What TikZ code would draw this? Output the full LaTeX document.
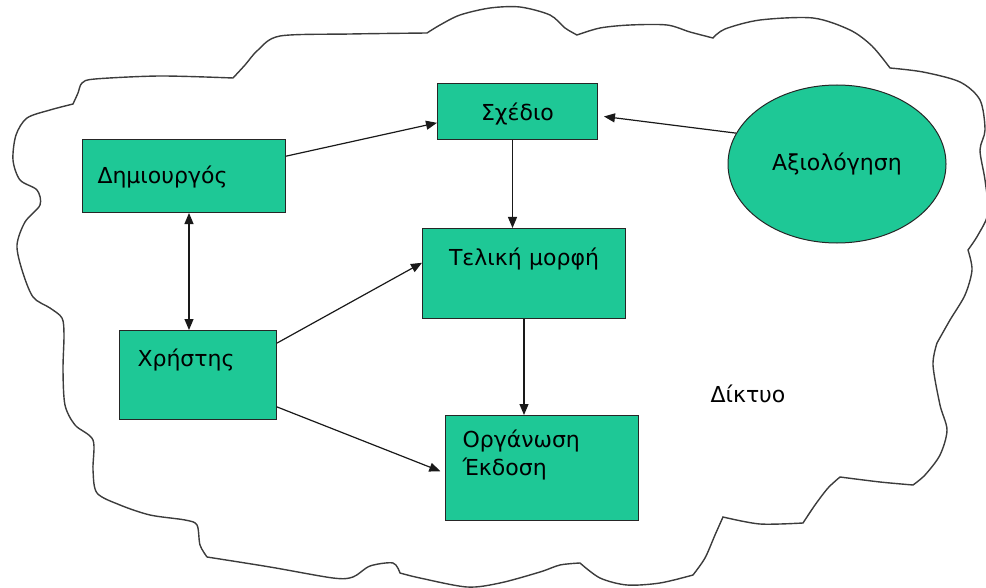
\documentclass[tikz,border=0pt]{standalone}
\usepackage{fontspec}
\setmainfont{DejaVu Sans}
\usetikzlibrary{arrows.meta,shapes.geometric}
\definecolor{boxgreen}{RGB}{30,200,150}
\definecolor{cloudgray}{RGB}{60,60,60}

\begin{document}
\begin{tikzpicture}[x=1bp,y=-1bp,
    box/.style={draw=black!85, fill=boxgreen, line width=1bp, anchor=north west,
                inner ysep=0pt, font=\fontsize{22bp}{28bp}\selectfont},
    oval/.style={ellipse, draw=black!85, fill=boxgreen, line width=1bp, inner sep=0pt,
                 minimum width=218bp, minimum height=158bp, font=\fontsize{22bp}{28bp}\selectfont},
    link/.style={-{Triangle[length=11bp,width=9bp]}, line width=1.2bp, draw=black!90},
    cloud/.style={draw=cloudgray, line width=1.4bp}]
    \useasboundingbox (0,0) rectangle (986,588);

    % the network cloud
    \draw[cloud] plot[smooth] coordinates {(207,557) (200,545) (197,525) (185,520) (150,515) (120,505) (97,493) (93,470) (93,440) (75,425) (65,405) (63,370) (64,335) (62,318) (50,308) (33,297) (22,270) (17,245) (25,222) (40,205) (37,190) (20,180) (13,160) (16,135) (27,118) (50,110) (73,104)}
        -- plot[smooth] coordinates {(73,104) (78,93) (82,83) (95,79) (160,76) (233,78)}
        -- plot[smooth] coordinates {(233,78) (245,65) (258,50) (280,36) (350,34) (427,33)}
        -- plot[smooth] coordinates {(427,33) (440,25) (460,15) (490,8) (520,7) (550,15) (565,28) (577,35)}
        -- plot[smooth] coordinates {(577,35) (600,28) (630,25) (667,25) (690,32) (713,38)}
        -- plot[smooth] coordinates {(713,38) (725,29) (760,20) (813,18) (850,30) (872,46) (890,68)}
        -- plot[smooth] coordinates {(890,68) (923,72) (960,82) (980,100) (985,130) (980,150) (985,180) (988,213) (978,235) (968,250)}
        -- plot[smooth] coordinates {(968,250) (972,270) (965,295) (950,320) (937,343)}
        -- plot[smooth] coordinates {(937,343) (933,365) (940,405) (947,430) (940,455) (925,475) (913,485)}
        -- plot[smooth] coordinates {(913,485) (880,482) (840,477)}
        -- plot[smooth] coordinates {(840,477) (828,488) (815,505) (803,523)}
        -- plot[smooth] coordinates {(803,523) (760,524) (723,517)}
        -- plot[smooth] coordinates {(723,517) (715,535) (705,558) (693,575)}
        -- plot[smooth] coordinates {(693,575) (660,583) (627,585) (600,578) (580,563)}
        -- plot[smooth] coordinates {(580,563) (560,565) (540,572) (500,583) (467,587) (420,578) (400,573)}
        -- plot[smooth] coordinates {(400,573) (393,563) (370,566) (353,577) (333,578) (270,567) (207,557)};

    \node[box, text width=173bp, inner xsep=15bp, text height=44bp, text depth=29bp, align=left]   (dim) at (82,139)  {Δημιουργός};
    \node[box, text width=130bp, inner xsep=15bp, text height=37bp, text depth=19bp, align=center] (sch) at (437,83)  {Σχέδιο};
    \node[box, text width=173bp, inner xsep=15bp, text height=37bp, text depth=53bp, align=center] (tel) at (422,228) {Τελική μορφή};
    \node[box, text width=121bp, inner xsep=18bp, text height=36bp, text depth=53bp, align=left]   (chr) at (119,330) {Χρήστης};
    \node[box, text width=159bp, inner xsep=17bp, text height=32bp, text depth=73bp, align=left]   (org) at (445,415) {Οργάνωση\\Έκδοση};
    \node[oval] (eva) at (837,164) {Αξιολόγηση};
    \node[font=\fontsize{22bp}{28bp}\selectfont] (net) at (748,394) {Δίκτυο};

    \draw[link] (dim.11)  to (sch.188);
    \draw[link, shorten >=6bp] (eva.163) to (sch.-3);
    \draw[link] ([xshift=-5bp]sch.south) to ([xshift=-5bp]sch.south |- tel.north);
    \draw[link, {Triangle[length=11bp,width=9bp]}-{Triangle[length=11bp,width=9bp]}] ([xshift=5bp]dim.south) to ([xshift=5bp]dim.south |- chr.north);
    \draw[link] (chr.22)  to (tel.174);
    \draw[link, shorten >=5bp] (chr.-22) to (org.183);
    \draw[link] (tel.south) to (tel.south |- org.north);
\end{tikzpicture}
\end{document}
